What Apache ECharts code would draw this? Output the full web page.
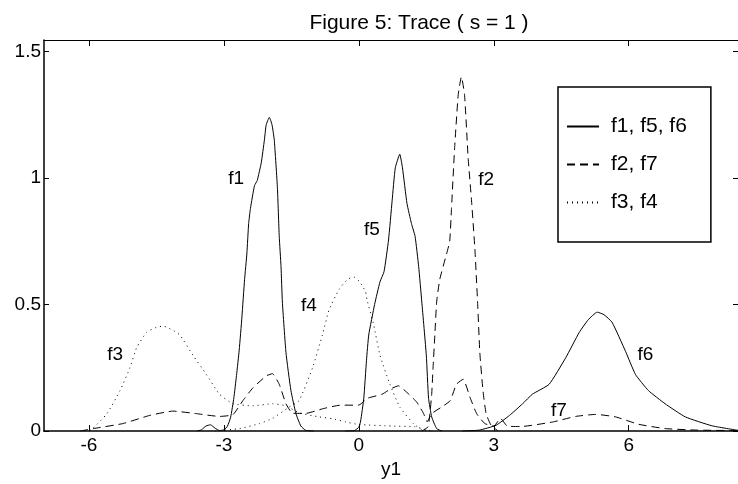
<!DOCTYPE html>
<html>
<head>
<meta charset="utf-8">
<script src="https://cdn.jsdelivr.net/npm/echarts@6/dist/echarts.min.js"></script>
<style>html,body{margin:0;padding:0;background:#fff;}#c{width:738px;height:484px;}</style>
</head>
<body>
<div id="c"></div>
<script>
// ---- data ----
var f1X = [-3.6,-3.5,-3.4,-3.3,-3.2,-3.1,-3.0,-2.92,-2.85,-2.78,-2.72,-2.66,-2.6,-2.54,-2.49,-2.45,-2.41,-2.32,-2.26,-2.17,-2.10,-2.06,-1.99,-1.93,-1.88,-1.81,-1.77,-1.73,-1.70,-1.62,-1.51,-1.40,-1.29,-1.18,-1.0];
var f1Y = [0,0.005,0.02,0.025,0.012,0.002,0.005,0.02,0.055,0.13,0.22,0.32,0.45,0.60,0.70,0.82,0.88,0.97,0.99,1.06,1.15,1.21,1.24,1.21,1.15,0.96,0.77,0.65,0.51,0.31,0.16,0.07,0.02,0.003,0];
var f5X = [-0.3,-0.1,0.0,0.04,0.11,0.17,0.22,0.35,0.47,0.56,0.66,0.74,0.81,0.91,0.97,1.07,1.17,1.25,1.33,1.40,1.50,1.55,1.62,1.73,1.85];
var f5Y = [0,0.002,0.015,0.04,0.13,0.28,0.38,0.50,0.59,0.63,0.755,0.91,1.04,1.094,1.04,0.90,0.82,0.77,0.65,0.51,0.30,0.13,0.056,0.01,0];
var f6X = [2.3,2.68,3.05,3.35,3.64,3.86,4.23,4.6,4.9,5.1,5.3,5.45,5.63,5.93,6.15,6.44,6.81,7.26,7.85,8.43];
var f6Y = [0,0.004,0.023,0.062,0.108,0.146,0.185,0.29,0.39,0.44,0.47,0.46,0.43,0.315,0.224,0.16,0.108,0.056,0.021,0.003];
var f2X = [1.40,1.54,1.58,1.62,1.65,1.69,1.73,1.80,1.95,2.02,2.06,2.13,2.21,2.28,2.35,2.43,2.51,2.58,2.64,2.69,2.76,2.83,2.94,3.1];
var f2Y = [0,0.017,0.069,0.146,0.25,0.38,0.51,0.60,0.70,0.75,0.88,1.12,1.33,1.40,1.33,1.08,0.90,0.72,0.51,0.31,0.16,0.069,0.023,0];
var f7X = [-6.2,-5.9,-5.24,-4.65,-4.13,-3.61,-3.10,-2.80,-2.58,-2.36,-2.06,-1.92,-1.77,-1.62,-1.47,-1.18,-0.81,-0.44,0.0,0.2,0.52,0.70,0.88,1.11,1.29,1.44,1.52,1.62,1.84,2.03,2.17,2.32,2.47,2.62,2.80,3.0,3.15,3.3,3.6,4.31,4.82,5.27,5.71,6.22,6.81,7.5,8.43];
var f7Y = [0,0.01,0.03,0.062,0.079,0.069,0.058,0.065,0.12,0.17,0.218,0.227,0.185,0.108,0.07,0.07,0.088,0.102,0.103,0.13,0.146,0.166,0.179,0.146,0.114,0.069,0.037,0.069,0.095,0.12,0.185,0.205,0.134,0.069,0.03,0.02,0.05,0.02,0.018,0.036,0.058,0.066,0.056,0.027,0.01,0.004,0.002];
var f3X = [-6.1,-5.95,-5.6,-5.31,-5.09,-4.94,-4.72,-4.5,-4.35,-4.15,-3.98,-3.69,-3.39,-3.10,-2.80,-2.36,-1.92,-1.62,-1.33,-0.88,-0.59,-0.29,0,0.74,1.25,1.48,1.6];
var f3Y = [0,0.005,0.069,0.16,0.25,0.33,0.39,0.41,0.415,0.40,0.38,0.30,0.224,0.146,0.108,0.10,0.108,0.10,0.072,0.056,0.049,0.036,0.026,0.02,0.017,0.006,0];
var f4X = [-3.2,-2.65,-2.2,-1.92,-1.55,-1.33,-1.03,-0.81,-0.66,-0.44,-0.25,-0.11,0.02,0.15,0.18,0.33,0.47,0.69,0.91,1.21,1.40,1.6];
var f4Y = [0,0.01,0.03,0.05,0.095,0.12,0.25,0.38,0.48,0.56,0.60,0.609,0.59,0.55,0.52,0.42,0.30,0.185,0.095,0.03,0.006,0];

var legendNames = ['f1, f5, f6', 'f2, f7', 'f3, f4'];
var annoNames = ['f1','f2','f3','f4','f5','f6','f7'];
var annoX = [-2.73, 2.83, -5.42, -1.11, 0.29, 6.37, 4.45];
var annoY = [0.997, 0.995, 0.302, 0.496, 0.794, 0.302, 0.082];
var xTicks = [-6, -3, 0, 3, 6];
var yTicks = [0, 0.5, 1, 1.5];
var titleText = 'Figure 5: Trace ( s = 1 )';
var xName = 'y1';

// ---- build ----
function pairs(xs, ys){ return xs.map(function(x,i){ return [x, ys[i]]; }); }
var FONT = 'Liberation Sans, Arial, Helvetica, sans-serif';
var SOLID = 'solid', DASHED = [8,5], DOTTED = [1,4];
function lineSeries(name, xs, ys, type){
  return {
    type: 'line', name: name, data: pairs(xs, ys),
    xAxisIndex: 0, yAxisIndex: 0,
    symbol: 'none', showSymbol: false, smooth: 0.15, animation: false,
    lineStyle: { color: '#000', width: 1, type: type },
    itemStyle: { color: '#000' }
  };
}
var series = [
  lineSeries(legendNames[0], f1X, f1Y, SOLID),
  lineSeries(legendNames[0], f5X, f5Y, SOLID),
  lineSeries(legendNames[0], f6X, f6Y, SOLID),
  lineSeries(legendNames[1], f2X, f2Y, DASHED),
  lineSeries(legendNames[1], f7X, f7Y, DASHED),
  lineSeries(legendNames[2], f3X, f3Y, DOTTED),
  lineSeries(legendNames[2], f4X, f4Y, DOTTED),
  {
    type: 'scatter', name: 'labels', symbolSize: 0, animation: false,
    itemStyle: { color: '#000', opacity: 1 },
    data: annoNames.map(function(n,i){ return { value: [annoX[i], annoY[i]], name: n }; }),
    label: { show: true, position: 'inside', formatter: '{b}', color: '#000', opacity: 1,
             fontSize: 19, fontFamily: FONT, align: 'center', verticalAlign: 'middle' },
    emphasis: { disabled: true }
  }
];

var chart = echarts.init(document.getElementById('c'), null, { renderer: 'canvas' });
chart.setOption({
  animation: false,
  backgroundColor: '#fff',
  title: {
    text: titleText, left: 414, top: 8, textAlign: 'center',
    textStyle: { fontSize: 21, fontWeight: 'normal', color: '#000', fontFamily: FONT }
  },
  grid: { left: 44, top: 40, width: 697, height: 398, containLabel: false },
  legend: {
    data: legendNames, orient: 'vertical', left: 558, top: 87,
    padding: [29, 24, 29, 8], itemGap: 17, itemWidth: 32, itemHeight: 20,
    borderColor: '#000', borderWidth: 1.5, backgroundColor: '#fff',
    selectedMode: false,
    itemStyle: { color: 'rgba(0,0,0,0)', borderWidth: 0, opacity: 0 },
    textStyle: { fontSize: 21, color: '#000', fontFamily: FONT, lineHeight: 20, padding: [0,0,0,7] }
  },
  xAxis: [
    {
      type: 'value', min: -7, max: 8.43, position: 'bottom',
      name: xName, nameLocation: 'middle', nameGap: 18,
      nameTextStyle: { fontSize: 19, color: '#000', fontFamily: FONT, verticalAlign: 'top' },
      axisLine: { show: true, onZero: false, lineStyle: { color: '#000', width: 1.5 } },
      axisTick: { show: true, inside: true, length: 6, customValues: xTicks, lineStyle: { color: '#000' } },
      axisLabel: { show: true, customValues: xTicks, fontSize: 19, color: '#000', fontFamily: FONT, margin: 5 },
      splitLine: { show: false }
    },
    {
      type: 'value', min: -7, max: 8.43, position: 'top',
      axisLine: { show: true, onZero: false, lineStyle: { color: '#000', width: 1 } },
      axisTick: { show: true, inside: true, length: 6, customValues: xTicks, lineStyle: { color: '#000' } },
      axisLabel: { show: false },
      splitLine: { show: false }
    }
  ],
  yAxis: [
    {
      type: 'value', min: 0, max: 1.5455, position: 'left',
      axisLine: { show: true, onZero: false, lineStyle: { color: '#000', width: 1.5 } },
      axisTick: { show: true, inside: true, length: 5, customValues: yTicks, lineStyle: { color: '#000' } },
      axisLabel: { show: true, customValues: yTicks, fontSize: 19, color: '#000', fontFamily: FONT, margin: 3 },
      splitLine: { show: false }
    },
    {
      type: 'value', min: 0, max: 1.5455, position: 'right',
      axisLine: { show: true, onZero: false, lineStyle: { color: '#000', width: 1 } },
      axisTick: { show: true, inside: true, length: 5, customValues: yTicks, lineStyle: { color: '#000' } },
      axisLabel: { show: false },
      splitLine: { show: false }
    }
  ],
  series: series
});
</script>
</body>
</html>
